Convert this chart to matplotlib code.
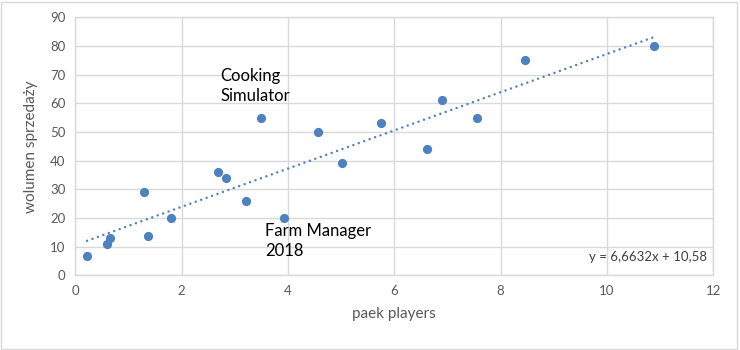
import matplotlib
matplotlib.use("Agg")
import matplotlib.pyplot as plt
from matplotlib.patches import Rectangle

plt.rcParams['font.family'] = ['Lato', 'DejaVu Sans']

# peak players (x) vs sales volume (y)
peak_players = [0.22, 0.60, 0.65, 1.29, 1.36, 1.80, 2.68, 2.83, 3.21, 3.49,
                3.93, 4.56, 5.01, 5.75, 6.62, 6.90, 7.56, 8.46, 10.89]
sales_volume = [6.7, 10.9, 13.1, 29.2, 13.7, 20.1, 36.0, 34.0, 26.0, 55.0,
                20.1, 50.0, 39.3, 53.1, 44.0, 61.1, 54.9, 75.1, 80.0]

# linear trendline coefficients
trend_slope = 6.6632
trend_intercept = 10.58

x_ticks = [0, 2, 4, 6, 8, 10, 12]
y_ticks = [0, 10, 20, 30, 40, 50, 60, 70, 80, 90]

blue = '#4f81bd'
grid = '#d9d9d9'
tick_col = '#595959'

fig = plt.figure(figsize=(7.4, 3.5), dpi=100)
fig.patch.set_facecolor('white')
fig.patches.append(Rectangle((0.002, 0.004), 0.994, 0.99, transform=fig.transFigure,
                             fill=False, edgecolor=grid, linewidth=1.0))

ax = fig.add_axes([0.1018, 0.2134, 0.8622, 0.7372])
ax.set_xlim(0, 12)
ax.set_ylim(0, 90)
ax.set_xticks(x_ticks)
ax.set_yticks(y_ticks)
ax.grid(True, color=grid, linewidth=1.0)
ax.set_axisbelow(True)
for s in ax.spines.values():
    s.set_color(grid)
    s.set_linewidth(1.0)
ax.tick_params(length=0, colors=tick_col, labelsize=9.5, pad=7)

ax.scatter(peak_players, sales_volume, s=44, color=blue, zorder=3, linewidths=0)

x0, x1 = min(peak_players), max(peak_players)
ax.plot([x0, x1], [trend_slope * x0 + trend_intercept, trend_slope * x1 + trend_intercept],
        color=blue, linewidth=1.8, linestyle=(0, (0.01, 2.3)),
        dash_capstyle='round', zorder=2)

ax.text(0.99, 0.07, 'y = 6,6632x + 10,58', transform=ax.transAxes,
        ha='right', va='center', fontsize=9.5, color='#404040')

ax.text(2.73, 66, 'Cooking\nSimulator', fontsize=12, color='black',
        ha='left', va='center', linespacing=1.35)
ax.text(3.57, 12, 'Farm Manager\n2018', fontsize=12, color='black',
        ha='left', va='center', linespacing=1.35)

ax.set_xlabel('paek players', fontsize=11, color=tick_col, labelpad=7)
ax.set_ylabel('wolumen sprzedaży', fontsize=11, color=tick_col, labelpad=9)

fig.savefig('out.png', dpi=100)
